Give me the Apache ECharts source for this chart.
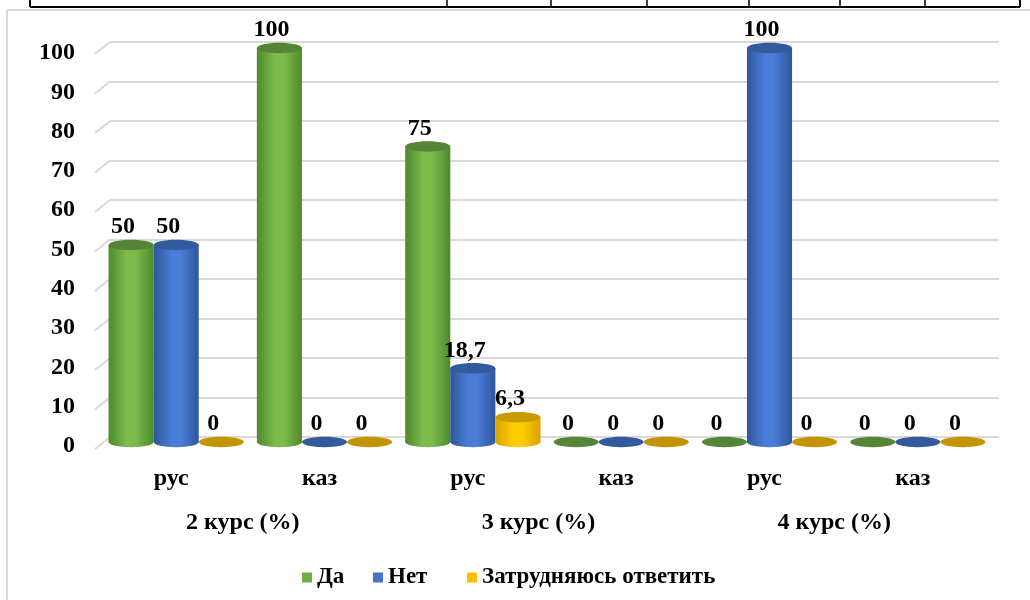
<!DOCTYPE html>
<html>
<head>
<meta charset="utf-8">
<script src="https://cdn.jsdelivr.net/npm/echarts@6/dist/echarts.min.js"></script>
<style>html,body{margin:0;padding:0;background:#fff}#chart{width:1030px;height:600px}</style>
</head>
<body>
<div id="chart"></div>
<script>
const categories = ['рус', 'каз', 'рус', 'каз', 'рус', 'каз'];
const groups = ['2 курс (%)', '3 курс (%)', '4 курс (%)'];
const seriesNames = ['Да', 'Нет', 'Затрудняюсь ответить'];
const daValues = [50, 100, 75, 0, 0, 0];
const netValues = [50, 0, 18.7, 0, 100, 0];
const hardValues = [0, 0, 6.3, 0, 0, 0];
const yTicks = [0, 10, 20, 30, 40, 50, 60, 70, 80, 90, 100];

const FONT = '"Liberation Serif", "Times New Roman", serif';
const palettes = [
  { legend: '#70ad47', edge: '#4e8a2c', mid: '#7dbb4d', top: '#558436', zero: '#568537' },
  { legend: '#4472c4', edge: '#2f5699', mid: '#4a7dd8', top: '#335a9c', zero: '#335a9c' },
  { legend: '#ffc000', edge: '#d9a300', mid: '#ffcc00', top: '#c99a00', zero: '#c49400' }
];
const allValues = [daValues, netValues, hardValues];

function fmt(v) { return String(v).replace('.', ','); }

function makeRender(si) {
  const pal = palettes[si];
  return function (params, api) {
    const ci = api.value(0), v = api.value(1);
    const base = api.coord([ci, 0]);
    const top = api.coord([ci, v]);
    const band = api.size([1, 0])[0];
    const w = band * 0.304;
    const cx = base[0] + (si - 1) * w;
    const rx = w / 2, ry = 5.2;
    const grad = { type: 'linear', x: 0, y: 0, x2: 1, y2: 0, colorStops: [
      { offset: 0, color: pal.edge }, { offset: 0.4, color: pal.mid },
      { offset: 0.6, color: pal.mid }, { offset: 1, color: pal.edge }] };
    const children = [];
    if (v > 0) {
      children.push({ type: 'ellipse', shape: { cx: cx, cy: base[1], rx: rx, ry: ry }, style: { fill: grad } });
      children.push({ type: 'rect', shape: { x: cx - rx, y: top[1], width: w, height: base[1] - top[1] }, style: { fill: grad } });
      children.push({ type: 'ellipse', shape: { cx: cx, cy: top[1], rx: rx, ry: ry }, style: { fill: pal.top } });
    } else {
      children.push({ type: 'ellipse', shape: { cx: cx, cy: base[1], rx: rx, ry: ry }, style: { fill: pal.zero } });
    }
    children.push({ type: 'text', x: cx - 8, y: top[1] - 18, style: {
      text: fmt(v), fill: '#000', font: 'bold 24px ' + FONT, align: 'center', verticalAlign: 'middle' } });
    return { type: 'group', children: children };
  };
}

const chart = echarts.init(document.getElementById('chart'), null, { renderer: 'canvas' });

const barSeries = seriesNames.map(function (name, si) {
  return {
    name: name, type: 'custom', xAxisIndex: 1, yAxisIndex: 1,
    itemStyle: { color: palettes[si].legend },
    renderItem: makeRender(si),
    data: allValues[si].map(function (v, i) { return [i, v]; }),
    z: 3
  };
});

const option = {
  animation: false,
  backgroundColor: '#fff',
  grid: [
    { left: 110, right: 31, top: 42, bottom: 163 },
    { left: 102, right: 38, top: 48, bottom: 158 },
    { left: 97, right: 43, top: 53, bottom: 154 },
    { left: 95, right: 48, top: 53, bottom: 154 }
  ],
  xAxis: [
    { gridIndex: 0, type: 'value', min: 0, max: 1, show: false },
    { gridIndex: 1, type: 'category', data: categories, show: false },
    { gridIndex: 2, type: 'category', data: categories, axisLine: { show: false }, axisTick: { show: false },
      axisLabel: { margin: 21, color: '#000', fontFamily: FONT, fontWeight: 'bold', fontSize: 24 } },
    { gridIndex: 3, type: 'category', data: groups, axisLine: { show: false }, axisTick: { show: false },
      axisLabel: { margin: 65, color: '#000', fontFamily: FONT, fontWeight: 'bold', fontSize: 24 } }
  ],
  yAxis: [
    { gridIndex: 0, type: 'value', min: 0, max: 100, interval: 10, axisLine: { show: false }, axisTick: { show: false },
      axisLabel: { show: false }, splitLine: { lineStyle: { color: '#d9d9d9', width: 2 } } },
    { gridIndex: 1, type: 'value', min: 0, max: 100, show: false, splitLine: { show: false } },
    { gridIndex: 2, type: 'value', min: 0, max: 100, interval: 10, axisLine: { show: false }, axisTick: { show: false },
      splitLine: { show: false },
      axisLabel: { margin: 22, color: '#000', fontFamily: FONT, fontWeight: 'bold', fontSize: 24 } },
    { gridIndex: 3, type: 'value', min: 0, max: 100, show: false, splitLine: { show: false } }
  ],
  legend: seriesNames.map(function (name, i) {
    return {
      data: [name], left: [297, 368, 462][i], top: 561, icon: 'rect', itemWidth: 10, itemHeight: 10,
      selectedMode: false,
      textStyle: { color: '#000', fontFamily: FONT, fontWeight: 'bold', fontSize: 23 }
    };
  }),
  graphic: [
    { type: 'line', shape: { x1: 7, y1: 10, x2: 7, y2: 600 }, style: { stroke: '#d9d9d9', lineWidth: 2 } },
    { type: 'line', shape: { x1: 7, y1: 10, x2: 1030, y2: 10 }, style: { stroke: '#d9d9d9', lineWidth: 2 } },
    { type: 'line', shape: { x1: 30, y1: 7, x2: 1020, y2: 7 }, style: { stroke: '#000', lineWidth: 2 } },
    { type: 'line', shape: { x1: 30, y1: 0, x2: 30, y2: 7 }, style: { stroke: '#000', lineWidth: 2 } },
    { type: 'line', shape: { x1: 447, y1: 0, x2: 447, y2: 7 }, style: { stroke: '#000', lineWidth: 1.5 } },
    { type: 'line', shape: { x1: 551, y1: 0, x2: 551, y2: 7 }, style: { stroke: '#000', lineWidth: 1.5 } },
    { type: 'line', shape: { x1: 647, y1: 0, x2: 647, y2: 7 }, style: { stroke: '#000', lineWidth: 1.5 } },
    { type: 'line', shape: { x1: 749, y1: 0, x2: 749, y2: 7 }, style: { stroke: '#000', lineWidth: 1.5 } },
    { type: 'line', shape: { x1: 840, y1: 0, x2: 840, y2: 7 }, style: { stroke: '#000', lineWidth: 1.5 } },
    { type: 'line', shape: { x1: 925, y1: 0, x2: 925, y2: 7 }, style: { stroke: '#000', lineWidth: 1.5 } },
    { type: 'line', shape: { x1: 1020, y1: 0, x2: 1020, y2: 7 }, style: { stroke: '#000', lineWidth: 2 } }
  ],
  series: [
    {
      type: 'custom', xAxisIndex: 0, yAxisIndex: 0, silent: true, z: 1,
      data: yTicks.map(function (t) { return [0, t]; }),
      renderItem: function (params, api) {
        const p = api.coord([0, api.value(1)]);
        return { type: 'line', shape: { x1: p[0], y1: p[1], x2: p[0] - 15, y2: p[1] + 12 },
          style: { stroke: '#d9d9d9', lineWidth: 2 } };
      }
    }
  ].concat(barSeries)
};
chart.setOption(option);
</script>
</body>
</html>
